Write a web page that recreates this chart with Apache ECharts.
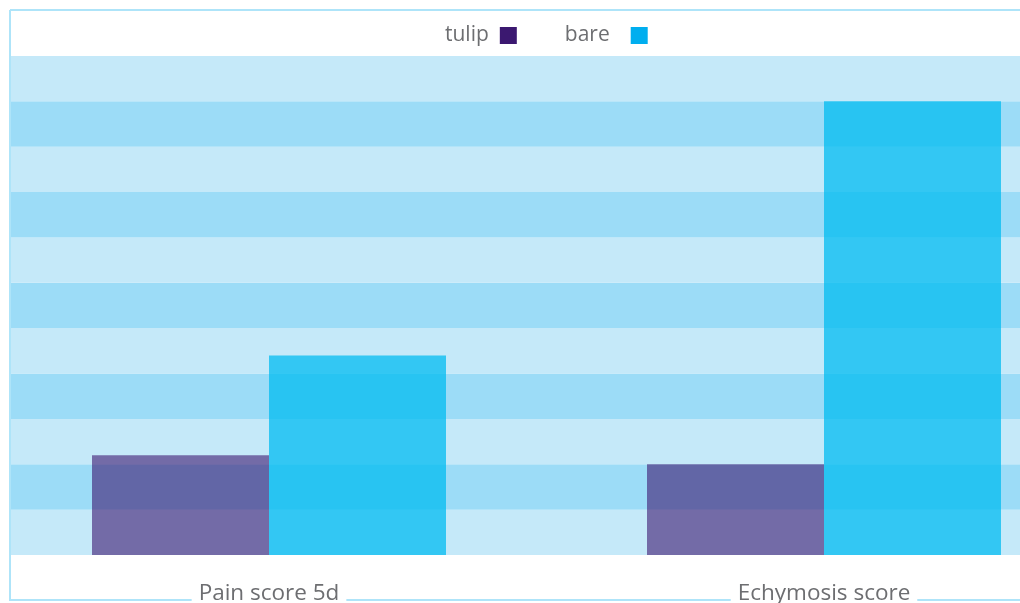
<!DOCTYPE html>
<html>
<head>
<meta charset="utf-8">
<script src="https://cdn.jsdelivr.net/npm/echarts@6/dist/echarts.min.js"></script>
<style>
  html, body { margin: 0; padding: 0; background: #fff; }
  #chart { width: 1020px; height: 603px; }
</style>
</head>
<body>
<div id="chart"></div>
<script>
var categories = ['Pain score 5d', 'Echymosis score'];
var tulipValues = [2.2, 2.0];
var bareValues = [4.4, 10.0];

var frameColor = '#aee4f9';
var chart = echarts.init(document.getElementById('chart'));

chart.setOption({
    animation: false,
    backgroundColor: '#fff',
    legend: {
        left: 440,
        top: 20,
        align: 'right',
        icon: 'rect',
        itemWidth: 17,
        itemHeight: 17,
        itemGap: 48,
        textStyle: { color: '#6d6e71', fontSize: 21, fontFamily: 'Open Sans', padding: [0, 6, 0, 0] },
        data: [
            { name: 'tulip', itemStyle: { color: '#3b1870', opacity: 1 } },
            { name: 'bare', itemStyle: { color: '#00aeef', opacity: 1 }, textStyle: { padding: [0, 16, 0, 0] } }
        ]
    },
    grid: { left: -8.5, width: 1110, top: 56, bottom: 48, outerBoundsMode: 'none', containLabel: false },
    xAxis: [
        {
            type: 'category',
            data: categories,
            z: 3,
            axisLine: { show: false },
            axisTick: { show: false },
            axisLabel: {
                margin: 27,
                color: '#6d6e71',
                fontSize: 22.5,
                fontFamily: 'Open Sans',
                lineHeight: 24,
                backgroundColor: '#fff',
                padding: [0, 7]
            }
        },
        {
            // bottom frame line
            type: 'category',
            data: categories,
            position: 'bottom',
            offset: 45,
            z: 1,
            axisLine: { show: true, lineStyle: { color: frameColor, width: 2 } },
            axisTick: { show: false },
            axisLabel: { show: false }
        }
    ],
    yAxis: {
        type: 'value',
        min: 0,
        max: 11,
        interval: 1,
        axisLine: { show: false },
        axisTick: { show: false },
        axisLabel: { show: false },
        splitLine: { show: false },
        splitArea: { show: true, areaStyle: { color: ['#c5e9f9', '#9cdcf7'] } }
    },
    series: [
        {
            name: 'tulip',
            type: 'bar',
            data: tulipValues,
            barWidth: 177,
            barGap: '0%',
            itemStyle: { color: '#3c1870', opacity: 0.6 }
        },
        {
            name: 'bare',
            type: 'bar',
            data: bareValues,
            barWidth: 177,
            itemStyle: { color: '#00bcf0', opacity: 0.74 }
        }
    ],
    graphic: {
        elements: [
            // mask left of frame
            { type: 'rect', z: 100, shape: { x: 0, y: 0, width: 9, height: 603 }, style: { fill: '#ffffff' } },
            { type: 'line', z: 101, shape: { x1: 10, y1: 10, x2: 1020, y2: 10 }, style: { stroke: frameColor, lineWidth: 2 } },
            { type: 'line', z: 101, shape: { x1: 10, y1: 10, x2: 10, y2: 600 }, style: { stroke: frameColor, lineWidth: 2 } }
        ]
    }
});
</script>
</body>
</html>
